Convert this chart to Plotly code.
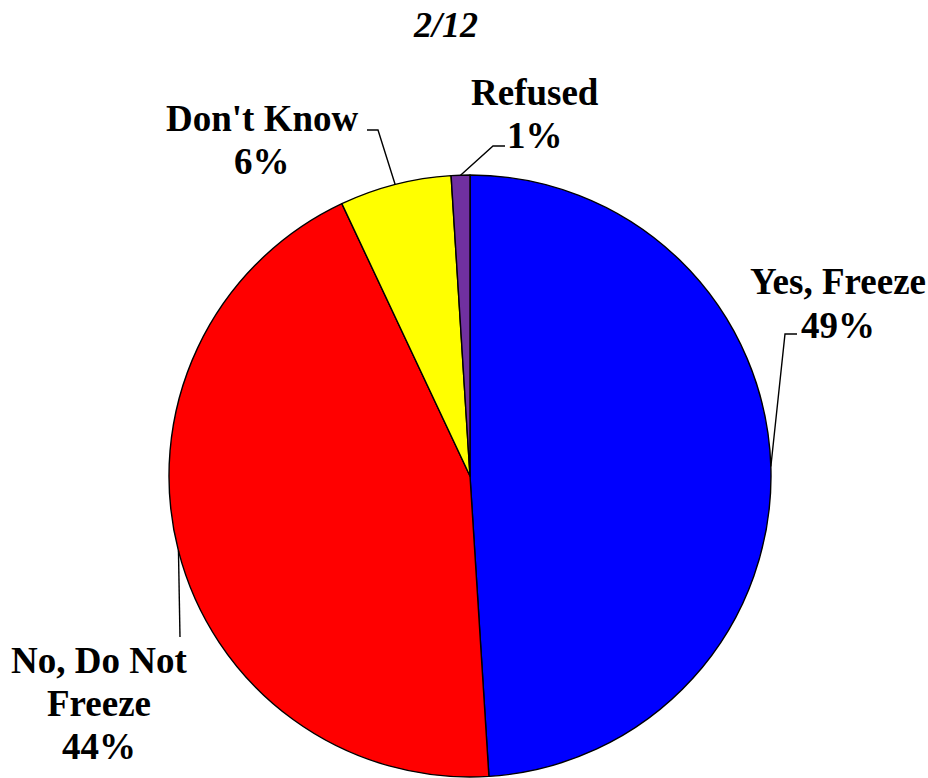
import math

import plotly.graph_objects as go

labels = ["Yes, Freeze", "No, Do Not Freeze", "Don't Know", "Refused"]
label_lines = [["Yes, Freeze", "49%"], ["No, Do Not", "Freeze", "44%"],
               ["Don't Know", "6%"], ["Refused", "1%"]]
values = [49, 44, 6, 1]
colors = ["#0000FF", "#FF0000", "#FFFF00", "#7030A0"]
title = "2/12"

W, H = 928, 778
CX, CY, R = 470, 476, 301  # pie centre and radius in pixels
FONT = "Liberation Serif, Times New Roman, serif"
LINE_GAP = 43


def px(x, y):
    return x / W, 1 - y / H


# centre of first label line and leader elbows (pixels)
label_pos = [(838, 282), (99, 660), (262, 118), (535, 92)]
elbows = [[(785, 334), (797, 334)],
          [(180, 637)],
          [(378, 130), (367, 130)],
          [(493, 146), (505, 146)]]

fig = go.Figure()
x0, y0 = px(CX - R, CY + R)
x1, y1 = px(CX + R, CY - R)
fig.add_trace(go.Pie(
    labels=labels, values=values, sort=False, direction="clockwise", rotation=0,
    marker=dict(colors=colors, line=dict(color="black", width=1.4)),
    textinfo="none", hoverinfo="label+percent", showlegend=False,
    domain=dict(x=[x0, x1], y=[y0, y1]),
))

total = sum(values)
cum = 0
for val, lines, (lx, ly), elbow in zip(values, label_lines, label_pos, elbows):
    theta = 2 * math.pi * (cum + val / 2) / total
    cum += val
    ex, ey = CX + R * math.sin(theta), CY - R * math.cos(theta)
    pts = [px(ex, ey)] + [px(a, b) for a, b in elbow]
    path = "M " + " L ".join(f"{a},{b}" for a, b in pts)
    fig.add_shape(type="path", path=path, xref="paper", yref="paper",
                  line=dict(color="black", width=1.4))
    for i, line in enumerate(lines):
        ax, ay = px(lx, ly + i * LINE_GAP)
        fig.add_annotation(x=ax, y=ay, xref="paper", yref="paper", text=f"<b>{line}</b>",
                           showarrow=False, xanchor="center", yanchor="middle",
                           font=dict(family=FONT, size=37, color="black"))

tx, ty = px(445, 25)
fig.add_annotation(x=tx, y=ty, xref="paper", yref="paper", text=f"<b><i>{title}</i></b>",
                   showarrow=False, xanchor="center", yanchor="middle",
                   font=dict(family=FONT, size=36, color="black"))

fig.update_layout(width=W, height=H, margin=dict(l=0, r=0, t=0, b=0),
                  paper_bgcolor="white", plot_bgcolor="white")
fig.write_html("out.html", config={"displayModeBar": False},
               post_script="document.body.style.margin = '0';")
